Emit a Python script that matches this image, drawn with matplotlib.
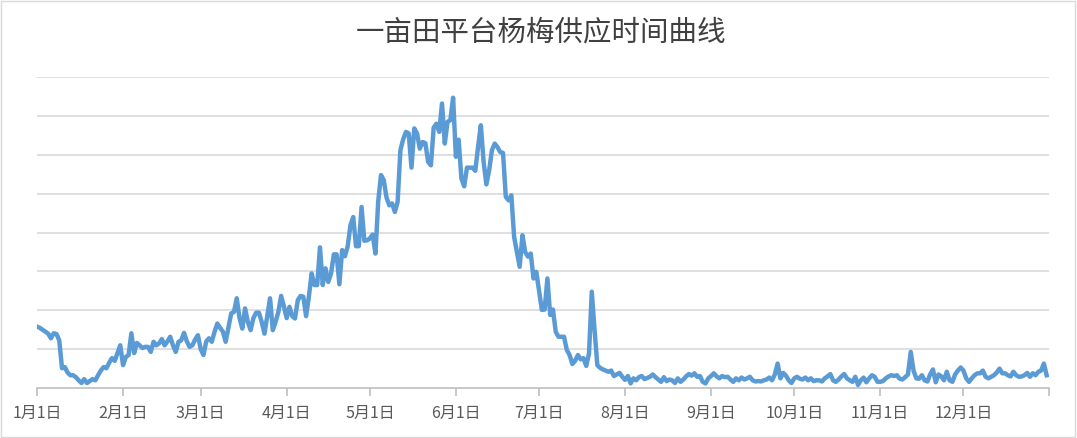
import numpy as np
import pandas as pd
import matplotlib
matplotlib.use("Agg")
import matplotlib.pyplot as plt
from matplotlib.patches import Rectangle

plt.rcParams['font.family'] = ['Noto Sans CJK SC', 'DejaVu Sans']

titre = "一亩田平台杨梅供应时间曲线"

# valeurs journalières (unité = un intervalle de grille)
jan = [1.58, 1.55, 1.50, 1.45, 1.40, 1.28, 1.41, 1.39, 1.23, 0.51, 0.54, 0.40, 0.33, 0.33, 0.28, 0.20,
       0.13, 0.23, 0.13, 0.18, 0.23, 0.20, 0.33, 0.45, 0.54, 0.51, 0.65, 0.77, 0.70, 0.90, 1.10]
fev = [0.59, 0.80, 0.85, 1.41, 0.90, 1.16, 1.10, 1.03, 1.06, 1.06, 0.93, 1.19, 1.10, 1.15, 1.26, 1.10,
       1.20, 1.32, 1.10, 0.93, 1.19, 1.23, 1.42, 1.20, 1.06, 1.10, 1.25, 1.36]
mar = [1.00, 0.85, 1.20, 1.28, 1.19, 1.45, 1.66, 1.55, 1.45, 1.19, 1.55, 1.92, 1.96, 2.31, 1.80, 1.53,
       2.05, 1.70, 1.49, 1.80, 1.94, 1.94, 1.70, 1.40, 1.85, 2.31, 1.49, 1.70, 1.96, 2.37, 2.10]
avr = [1.80, 2.09, 1.85, 1.79, 2.26, 2.37, 2.35, 1.85, 2.35, 2.95, 2.65, 2.65, 3.62, 2.65, 3.08, 2.73,
       2.95, 3.44, 3.44, 2.67, 3.55, 3.39, 3.65, 4.19, 4.40, 3.65, 3.65, 4.66, 3.79, 3.80]
mai = [3.85, 3.95, 3.46, 4.80, 5.48, 5.35, 4.90, 4.70, 4.75, 4.53, 4.79, 6.12, 6.40, 6.59, 6.55, 5.67,
       6.68, 6.55, 6.16, 6.33, 6.30, 5.82, 5.73, 6.70, 6.80, 6.59, 7.32, 6.29, 6.85, 6.89, 7.47]
juin = [5.95, 6.39, 5.39, 5.19, 5.67, 5.67, 5.67, 5.59, 6.20, 6.76, 5.82, 5.24, 5.60, 6.12, 6.29, 6.20,
        6.07, 6.05, 4.92, 4.83, 4.96, 3.89, 3.50, 3.12, 3.93, 3.50, 3.38, 3.46, 2.82, 2.99]
juil = [2.50, 2.01, 2.02, 2.82, 1.88, 2.02, 1.45, 1.32, 1.32, 1.32, 0.98, 0.85, 0.62, 0.70, 0.85, 0.74,
        0.77, 0.57, 0.89, 2.48, 1.50, 0.59, 0.52, 0.48, 0.45, 0.42, 0.45, 0.31, 0.35, 0.39, 0.29]
aout = [0.21, 0.31, 0.12, 0.25, 0.20, 0.28, 0.31, 0.23, 0.26, 0.29, 0.35, 0.28, 0.22, 0.16, 0.28, 0.18,
        0.22, 0.20, 0.13, 0.25, 0.16, 0.22, 0.30, 0.36, 0.32, 0.38, 0.29, 0.31, 0.16, 0.12, 0.25]
sep = [0.31, 0.38, 0.30, 0.25, 0.31, 0.28, 0.29, 0.22, 0.16, 0.25, 0.20, 0.27, 0.22, 0.25, 0.29, 0.20,
       0.17, 0.18, 0.17, 0.20, 0.22, 0.27, 0.20, 0.35, 0.63, 0.25, 0.39, 0.32, 0.20, 0.13]
octo = [0.25, 0.29, 0.24, 0.22, 0.27, 0.20, 0.25, 0.18, 0.20, 0.20, 0.17, 0.25, 0.30, 0.36, 0.20, 0.16,
        0.22, 0.30, 0.36, 0.25, 0.20, 0.16, 0.29, 0.08, 0.20, 0.27, 0.15, 0.25, 0.33, 0.29, 0.16]
nov = [0.16, 0.18, 0.25, 0.30, 0.33, 0.31, 0.33, 0.24, 0.22, 0.28, 0.35, 0.93, 0.45, 0.25, 0.24, 0.33,
       0.20, 0.17, 0.35, 0.48, 0.15, 0.35, 0.30, 0.20, 0.42, 0.20, 0.16, 0.35, 0.45, 0.53]
dec = [0.45, 0.25, 0.16, 0.25, 0.33, 0.38, 0.38, 0.45, 0.29, 0.25, 0.29, 0.33, 0.40, 0.50, 0.38, 0.38,
       0.33, 0.30, 0.42, 0.33, 0.29, 0.30, 0.33, 0.39, 0.29, 0.38, 0.33, 0.42, 0.45, 0.63, 0.33]

mois_labels = ["1月1日", "2月1日", "3月1日", "4月1日", "5月1日", "6月1日",
               "7月1日", "8月1日", "9月1日", "10月1日", "11月1日", "12月1日"]

valeurs = np.array(jan + fev + mar + avr + mai + juin + juil + aout + sep + octo + nov + dec)
jours = np.arange(len(valeurs))
debuts_mois = list(pd.date_range("2021-01-01", periods=12, freq="MS").dayofyear - 1)

fig = plt.figure(figsize=(10.77, 4.38), dpi=100)
ax = fig.add_axes([0.0344, 0.114, 0.94, 0.71])

ax.plot(jours, valeurs, color="#5B9BD5", lw=3.2, solid_joinstyle="round", zorder=3)

ax.set_xlim(0, len(valeurs))
ax.set_ylim(0, 8)
ax.set_yticks(np.arange(1, 9))
ax.yaxis.grid(True, color="#d9d9d9", lw=1.2)
ax.tick_params(axis="y", left=False, labelleft=False)

ax.set_xticks(debuts_mois)
ax.set_xticklabels(mois_labels, fontsize=11.5, color="#595959")
ax.set_xticks([len(valeurs)], minor=True)
ax.tick_params(axis="x", which="both", direction="out", length=6, width=1.2, color="#bfbfbf", pad=6)

for s in ["left", "right", "top"]:
    ax.spines[s].set_visible(False)
ax.spines["bottom"].set_color("#bfbfbf")
ax.spines["bottom"].set_linewidth(1.2)

fig.text(0.502, 0.925, titre, ha="center", va="center", fontsize=20.5, color="#404040")

# cadre gris autour du graphique
fig.patches.append(Rectangle((0.001, 0.002), 0.997, 0.995, transform=fig.transFigure,
                             fill=False, edgecolor="#d9d9d9", lw=1))

plt.savefig("out.png", dpi=100)
